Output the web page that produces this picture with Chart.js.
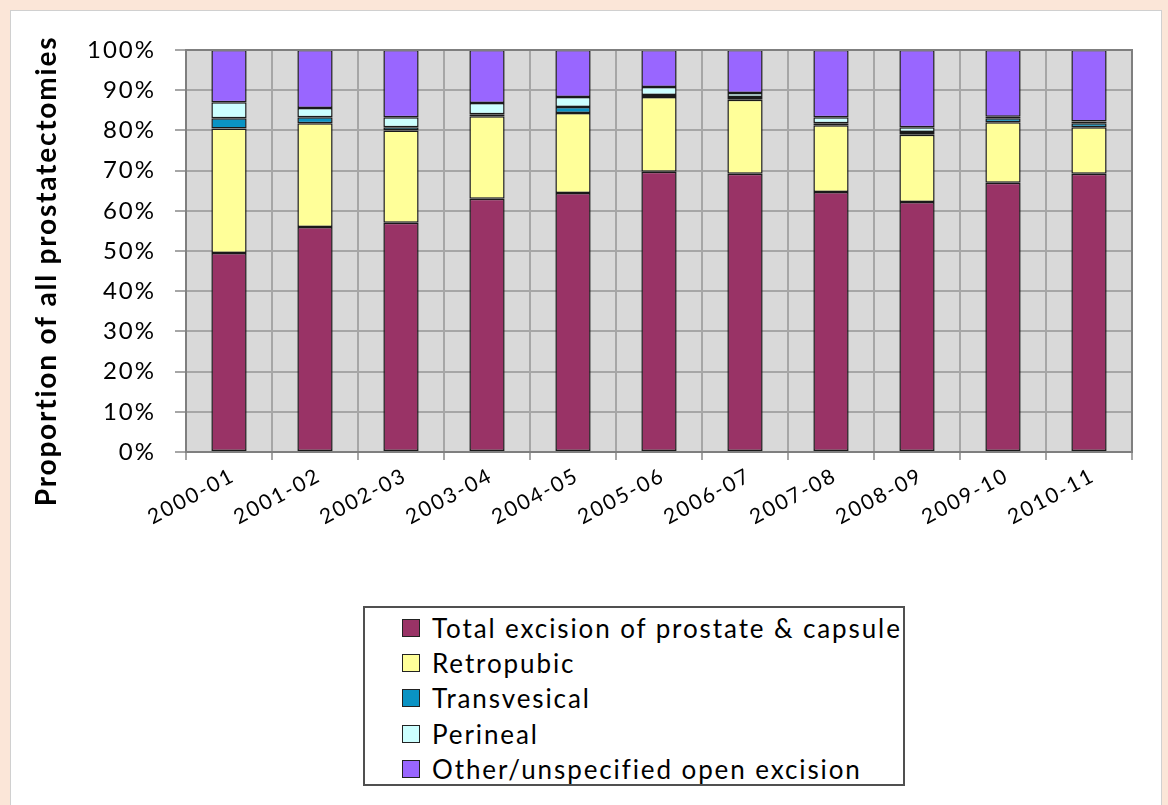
<!DOCTYPE html>
<html>
<head>
<meta charset="utf-8">
<script src="https://cdn.jsdelivr.net/npm/chart.js@4"></script>
<style>
  html, body { margin: 0; padding: 0; }
  body { width: 1168px; height: 805px; background: #fbe6d8; position: relative; overflow: hidden; font-family: Lato, "Open Sans", sans-serif; }
  #panel { position: absolute; left: 10px; top: 10px; width: 1150px; height: 810px; background: #fff; border: 1px solid #d0d0d0; }
  #wrap { position: absolute; left: 0; top: 0; width: 1168px; height: 805px; }
  #legend { position: absolute; left: 363px; top: 606px; width: 542px; height: 180px; border: 2px solid #505050; background: #fff; box-sizing: border-box; padding: 2px 0 0 37px; }
  .row { height: 35.3px; display: flex; align-items: center; font-size: 26px; letter-spacing: 1.9px; color: #000; }
  .sw { width: 16px; height: 16px; border: 1.5px solid #222; margin-right: 12px; flex: none; }
</style>
</head>
<body>
<div id="panel"></div>
<div id="wrap"><canvas id="chart1"></canvas></div>
<div id="legend"></div>
<script>
const years = ['2000-01', '2001-02', '2002-03', '2003-04', '2004-05', '2005-06', '2006-07', '2007-08', '2008-09', '2009-10', '2010-11'];
const totalExcision = [49.5, 56.0, 57.0, 63.0, 64.4, 69.7, 69.2, 64.7, 62.2, 67.0, 69.2];
const retropubic    = [31.0, 25.8, 23.0, 20.5, 19.9, 18.6, 18.4, 16.6, 16.7, 15.0, 11.6];
const transvesical  = [2.5, 1.5, 0.8, 0.5, 1.5, 0.5, 0.7, 0.5, 0.7, 1.0, 1.0];
const perineal      = [4.0, 2.3, 2.5, 2.8, 2.5, 2.0, 1.0, 1.5, 1.2, 0.4, 0.4];
const otherOpen     = [13.0, 14.4, 16.7, 13.2, 11.7, 9.2, 10.7, 16.7, 19.2, 16.6, 17.8];
const yTicks = [0, 10, 20, 30, 40, 50, 60, 70, 80, 90, 100];

const seriesNames = ['Total excision of prostate  & capsule', 'Retropubic', 'Transvesical', 'Perineal', 'Other/unspecified open excision'];
const seriesData = [totalExcision, retropubic, transvesical, perineal, otherOpen];
const seriesColors = ['#993366', '#ffff99', '#0a93c4', '#ccffff', '#9966ff'];
const yTitle = 'Proportion of all prostatectomies';

// grey plot background, frame and the y title (Excel puts it a bit lower than chart.js would)
const plotBg = {
    id: 'plotBg',
    beforeLayout(chart) { chart.ctx.letterSpacing = '2px'; },
    beforeDraw(chart) {
        const a = chart.chartArea, c = chart.ctx;
        c.letterSpacing = '2px';
        c.save();
        c.fillStyle = '#d9d9d9';
        c.fillRect(a.left, a.top, a.right - a.left, a.bottom - a.top);
        c.restore();
    },
    afterDraw(chart) {
        const a = chart.chartArea, c = chart.ctx;
        c.save();
        c.strokeStyle = '#7f7f7f';
        c.lineWidth = 2;
        c.strokeRect(a.left, a.top, a.right - a.left, a.bottom - a.top);
        c.translate(47, 271);
        c.rotate(-Math.PI / 2);
        c.letterSpacing = '1.8px';
        c.font = 'bold 28px Lato';
        c.fillStyle = '#000';
        c.textAlign = 'center';
        c.textBaseline = 'middle';
        c.fillText(yTitle, 0, 0);
        c.restore();
    }
};

const ctx = document.getElementById('chart1').getContext('2d');

const chart1 = new Chart(ctx, {
    type: 'bar',
    data: {
        labels: years,
        datasets: seriesData.map((d, i) => ({
            label: seriesNames[i],
            data: d,
            backgroundColor: seriesColors[i],
            borderColor: '#1a1a1a',
            borderWidth: 1.5,
            borderSkipped: false,
            barPercentage: 0.82,
            categoryPercentage: 0.5
        }))
    },
    options: {
        responsive: true,
        maintainAspectRatio: false,
        animation: false,
        layout: { padding: { left: 0, top: 50, right: 36, bottom: 253 } },
        plugins: {
            legend: { display: false },
            tooltip: { enabled: false }
        },
        scales: {
            x: {
                stacked: true,
                afterFit(s) { s.height = 100; },
                grid: { color: '#a6a6a6', lineWidth: 2, tickLength: 8, offset: true },
                border: { color: '#7f7f7f', width: 2 },
                ticks: {
                    autoSkip: false,
                    minRotation: 28,
                    maxRotation: 28,
                    labelOffset: 4,
                    padding: 3,
                    color: '#000',
                    font: { family: 'Lato', size: 21 }
                }
            },
            y: {
                stacked: true,
                min: 0,
                max: 100,
                afterFit(s) { s.width = 186; },
                afterBuildTicks(s) { s.ticks = yTicks.map(v => ({ value: v })); },
                grid: { color: '#a6a6a6', lineWidth: 2, tickLength: 11 },
                border: { color: '#7f7f7f', width: 2 },
                ticks: {
                    padding: 19,
                    color: '#000',
                    font: { family: 'Lato', size: 24 },
                    callback: v => v + '%'
                }
            }
        }
    },
    plugins: [plotBg]
});

// legend, one series per row
const legendEl = document.getElementById('legend');
chart1.data.datasets.forEach(ds => {
    const row = document.createElement('div');
    row.className = 'row';
    const sw = document.createElement('span');
    sw.className = 'sw';
    sw.style.background = ds.backgroundColor;
    const tx = document.createElement('span');
    tx.textContent = ds.label;
    row.appendChild(sw);
    row.appendChild(tx);
    legendEl.appendChild(row);
});
</script>
</body>
</html>
